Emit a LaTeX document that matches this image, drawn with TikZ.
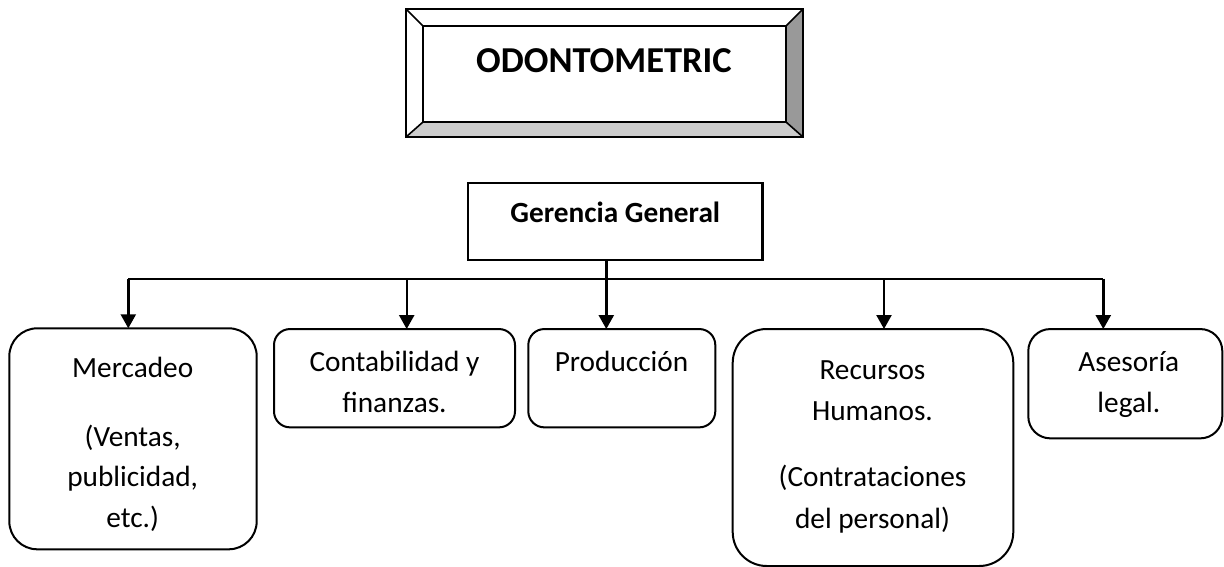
\documentclass[tikz,border=0pt]{standalone}
\usepackage{fontspec}
\setmainfont{Carlito}
\usetikzlibrary{arrows.meta}
\definecolor{bevdark}{HTML}{999999}
\definecolor{bevlight}{HTML}{CCCCCC}
\begin{document}
\begin{tikzpicture}[x=1pt,y=-1pt,
  every node/.style={inner sep=0pt, outer sep=0pt},
  unitbox/.style={draw, line width=2pt, rectangle},
  lbl/.style={anchor=base, font=\fontsize{29.3}{35}\selectfont},
  blbl/.style={anchor=base, font=\fontsize{29.3}{35}\selectfont\bfseries},
  conn/.style={line width=2.4pt},
  arr/.style={line width=2.4pt, -{Triangle[length=14pt,width=15pt]}}
]
\useasboundingbox (0,0) rectangle (1224,567);

% --- bevelled title box ---
\coordinate (O1) at (406,9);   \coordinate (O2) at (803,9);
\coordinate (O3) at (803,137); \coordinate (O4) at (406,137);
\coordinate (I1) at (423,26);  \coordinate (I2) at (786,26);
\coordinate (I3) at (786,122); \coordinate (I4) at (423,122);
\fill[white] (O1) -- (O2) -- (I2) -- (I1) -- cycle;
\fill[white] (O1) -- (I1) -- (I4) -- (O4) -- cycle;
\fill[bevdark] (O2) -- (O3) -- (I3) -- (I2) -- cycle;
\fill[bevlight] (O4) -- (O3) -- (I3) -- (I4) -- cycle;
\draw[line width=2.4pt] (O1) rectangle (O3);
\draw[line width=2.4pt] (I1) rectangle (I3);
\draw[line width=1.6pt] (O1) -- (I1) (O2) -- (I2) (O3) -- (I3) (O4) -- (I4);
\node[blbl, font=\fontsize{36.5}{44}\selectfont\bfseries] (title) at (604,72.7) {ODONTOMETRIC};

% --- Gerencia General ---
\node[unitbox, line width=2.3pt, minimum width=294.7pt, minimum height=77.6pt] (gg) at (615.2,221.5) {};
\node[blbl] (ggt) at (615.3,222.3) {Gerencia General};

% --- department boxes ---
\node[unitbox, rounded corners=28pt, minimum width=247.4pt, minimum height=221pt] (merc) at (133,438.8) {};
\node[unitbox, rounded corners=16pt, minimum width=241pt, minimum height=98.3pt] (cont) at (394.5,378.2) {};
\node[unitbox, rounded corners=16pt, minimum width=187pt, minimum height=98.3pt] (prod) at (621.8,378.2) {};
\node[unitbox, rounded corners=34pt, minimum width=280.6pt, minimum height=237pt] (rh) at (873,447.5) {};
\node[unitbox, rounded corners=22pt, minimum width=194pt, minimum height=109.3pt] (ases) at (1125.3,383.7) {};

% --- texts ---
\node[lbl] (m1) at (132.7,377.3) {Mercadeo};
\node[lbl] (m2) at (132.7,446) {(Ventas,};
\node[lbl] (m3) at (132.7,486.7) {publicidad,};
\node[lbl] (m4) at (132.7,527.3) {etc.)};

\node[lbl] (c1) at (394.5,371.7) {Contabilidad y};
\node[lbl] (c2) at (394.5,412.7) {finanzas.};

\node[lbl] (p1) at (621.5,371.7) {Producción};

\node[lbl] (r1) at (872.5,379.3) {Recursos};
\node[lbl] (r2) at (872.5,420) {Humanos.};
\node[lbl] (r3) at (872.5,486.7) {(Contrataciones};
\node[lbl] (r4) at (872.5,528.3) {del personal)};

\node[lbl] (a1) at (1128.8,371.7) {Asesoría};
\node[lbl] (a2) at (1128.8,412.7) {legal.};

% --- connectors ---
\coordinate (b1) at (128.3,278.7);
\coordinate (b2) at (406.7,278.7);
\coordinate (b3) at (606.3,278.7);
\coordinate (b4) at (884,278.7);
\coordinate (b5) at (1103.3,278.7);
\draw[conn] (b1) -- (b5);
\draw[arr] (gg.south -| b3) -- (b3 |- prod.north);
\draw[arr] (b1) -- (b1 |- merc.north);
\draw[arr] (b2) -- (b2 |- cont.north);
\draw[arr] (b4) -- (b4 |- rh.north);
\draw[arr] (b5) -- (b5 |- ases.north);
\end{tikzpicture}
\end{document}
